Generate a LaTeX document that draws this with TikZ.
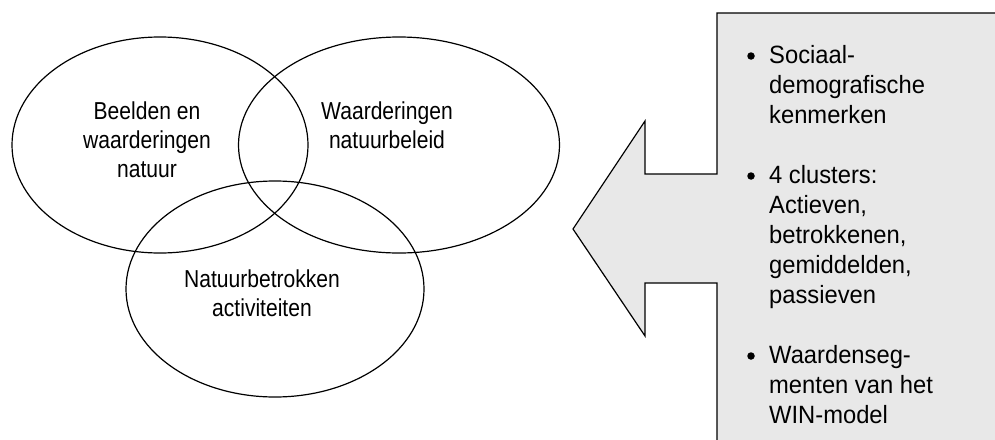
\documentclass[tikz,border=0pt]{standalone}
\usetikzlibrary{shapes.geometric}
\usepackage{fontspec}
\setmainfont{Liberation Sans}
\newfontfamily\vennfont[FakeStretch=0.86]{Liberation Sans}
\newfontfamily\boxfont[FakeStretch=0.95]{Liberation Sans}
\definecolor{boxgray}{RGB}{232,232,232}
\tikzset{
  venn/.style={draw=black, line width=1.2pt},
  vlabel/.style={anchor=base, inner sep=0pt, font=\vennfont\fontsize{24.5}{29}\selectfont},
  blabel/.style={anchor=base west, inner sep=0pt, font=\boxfont\fontsize{25}{30}\selectfont},
  bulletdot/.style={circle, fill=black, inner sep=0pt, minimum size=7.5pt},
  arrowshape/.style={draw=black, line width=1.2pt, line join=miter}
}
\begin{document}
\begin{tikzpicture}[x=1pt, y=-1pt]
\useasboundingbox (0,0) rectangle (995,439);
\clip (0,0) rectangle (995,439);
% arrow/box
\coordinate (b0) at (1005,13);
\coordinate (b1) at (717,13);
\coordinate (b2) at (717,174);
\coordinate (b3) at (645,174);
\coordinate (b4) at (645,121);
\coordinate (tip) at (573,229);
\coordinate (b5) at (645,336);
\coordinate (b6) at (645,283);
\coordinate (b7) at (717,283);
\coordinate (b8) at (717,450);
\coordinate (b9) at (1005,450);
\fill[boxgray] (b0) -- (b1) -- (b2) -- (b3) -- (b4) -- (tip) -- (b5) -- (b6) -- (b7) -- (b8) -- (b9) -- cycle;
\draw[arrowshape] (b0) -- (b1) -- (b2) -- (b3) -- (b4) -- (tip) -- (b5) -- (b6) -- (b7) -- (b8);
% ellipses
\node[venn, ellipse, minimum width=296pt, minimum height=216pt, inner sep=0pt] (e1) at (160,145) {};
\node[venn, ellipse, minimum width=321pt, minimum height=216pt, inner sep=0pt] (e2) at (399,145) {};
\node[venn, ellipse, minimum width=298pt, minimum height=216pt, inner sep=0pt] (e3) at (275,289) {};
% venn labels
\node[vlabel] (t1) at (147,119) {\begin{tabular}[t]{@{}c@{}}Beelden en\\waarderingen\\natuur\end{tabular}};
\node[vlabel] (t2) at (387,119) {\begin{tabular}[t]{@{}c@{}}Waarderingen\\natuurbeleid\end{tabular}};
\node[vlabel] (t3) at (262,287) {\begin{tabular}[t]{@{}c@{}}Natuurbetrokken\\activiteiten\end{tabular}};
% box list
\node[bulletdot] (u1) at (751,56) {};
\node[bulletdot] (u2) at (751,176) {};
\node[bulletdot] (u3) at (751,356) {};
\node[blabel] (l1) at (769,63) {\begin{tabular}[t]{@{}l@{}}Sociaal-\\demografische\\kenmerken\end{tabular}};
\node[blabel] (l2) at (769,183) {\begin{tabular}[t]{@{}l@{}}4 clusters:\\Actieven,\\betrokkenen,\\gemiddelden,\\passieven\end{tabular}};
\node[blabel] (l3) at (769,363) {\begin{tabular}[t]{@{}l@{}}Waardenseg-\\menten van het\\WIN-model\end{tabular}};
\end{tikzpicture}
\end{document}
